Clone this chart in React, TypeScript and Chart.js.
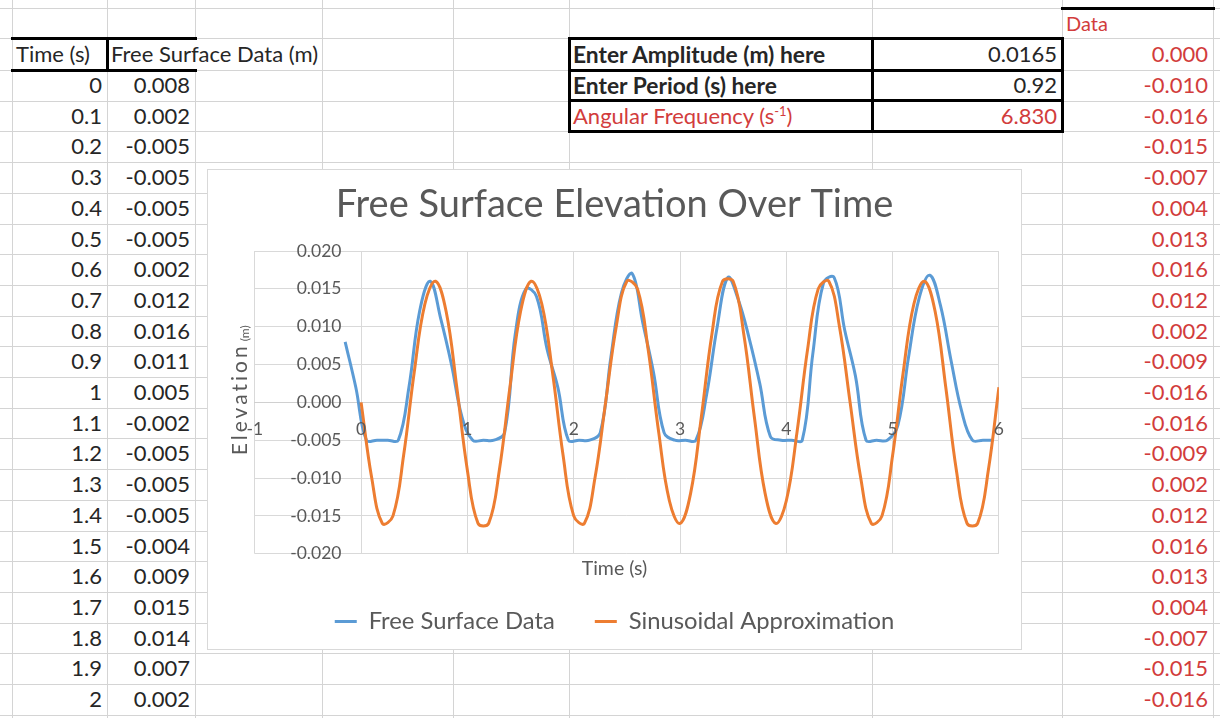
import React, { useEffect, useRef } from "react";
import { Chart, registerables } from "chart.js";

Chart.register(...registerables);

// ---------------- data ----------------
const SAMPLE_TIME = [
  0, 0.1, 0.2, 0.3, 0.4, 0.5, 0.6, 0.7, 0.8, 0.9,
  1, 1.1, 1.2, 1.3, 1.4, 1.5, 1.6, 1.7, 1.8, 1.9,
  2, 2.1, 2.2, 2.3, 2.4, 2.5, 2.6, 2.7, 2.8, 2.9,
  3, 3.1, 3.2, 3.3, 3.4, 3.5, 3.6, 3.7, 3.8, 3.9,
  4, 4.1, 4.2, 4.3, 4.4, 4.5, 4.6, 4.7, 4.8, 4.9,
  5, 5.1, 5.2, 5.3, 5.4, 5.5, 5.6, 5.7, 5.8, 5.9,
  6, 6.1,
];

const FREE_SURFACE = [
  0.008, 0.002, -0.005, -0.005, -0.005, -0.005, 0.002, 0.012, 0.016, 0.011,
  0.005, -0.002, -0.005, -0.005, -0.005, -0.004, 0.009, 0.015, 0.014, 0.007,
  0.002, -0.005, -0.005, -0.005, -0.004, 0.006, 0.0145, 0.017, 0.0105, 0.004,
  -0.004, -0.005, -0.005, -0.005, 0.001, 0.01, 0.0165, 0.0135, 0.0085, 0.0025,
  -0.0045, -0.005, -0.005, -0.005, 0.0065, 0.0158, 0.0165, 0.0095, 0.0035, -0.005,
  -0.005, -0.005, -0.003, 0.006, 0.0138, 0.0168, 0.0128, 0.0055, -0.0012, -0.005,
  -0.005, -0.005,
];

// time offset of the measured series on the chart's x axis (s)
const FREE_SURFACE_TIME_SHIFT = -0.15;

const SINUSOID = [
  0.0, -0.01, -0.016, -0.015, -0.007, 0.004, 0.013, 0.016, 0.012, 0.002,
  -0.009, -0.016, -0.016, -0.009, 0.002, 0.012, 0.016, 0.013, 0.004, -0.007,
  -0.015, -0.016, -0.01, 0.0, 0.01, 0.016, 0.015, 0.007, -0.004, -0.013,
  -0.016, -0.012, -0.002, 0.009, 0.016, 0.016, 0.009, -0.002, -0.012, -0.016,
  -0.013, -0.004, 0.007, 0.015, 0.016, 0.01, 0.0, -0.01, -0.016, -0.015,
  -0.007, 0.004, 0.013, 0.016, 0.012, 0.002, -0.009, -0.016, -0.016, -0.009,
  0.002,
];

const TABLE_ROWS = 21; // rows of the Time / Free Surface table shown
const DATA_ROWS = 22; // rows of the red "Data" column shown

const AMPLITUDE = "0.0165";
const PERIOD = "0.92";
const ANGULAR_FREQUENCY = "6.830";

const SERIES_LABELS = ["Free Surface Data", "Sinusoidal Approximation"];
const CHART_TITLE = "Free Surface Elevation Over Time";
const X_TITLE = "Time (s)";
const Y_TITLE = "Elevation";
const Y_TITLE_UNIT = "(m)";
const X_MIN = -1;
const X_MAX = 6;
const X_STEP = 1;
const Y_MIN = -0.02;
const Y_MAX = 0.02;
const Y_STEP = 0.005;

// ---------------- layout ----------------
const FONT = "Lato";
const GRID = "#d4d4d4";
const TEXT = "#262626";
const RED = "#d23c3c";
const AXIS_TEXT = "#595959";
const COL_X = [12, 107, 195, 322, 453, 569, 872, 1062, 1213];

const rowTop = (r: number) => (r === -1 ? 8 : r === 0 ? 38 : 70 + 30.7 * (r - 1));
const rowH = (r: number) => (r === -1 ? 30 : r === 0 ? 32 : 30.7);

function Cell(props: {
  r: number;
  c0: number;
  c1: number;
  align?: "left" | "right";
  style?: React.CSSProperties;
  children: React.ReactNode;
}) {
  const { r, c0, c1, align = "left", style, children } = props;
  const h = rowH(r);
  const s: React.CSSProperties = {
    position: "absolute",
    top: rowTop(r),
    height: h,
    lineHeight: h + "px",
    whiteSpace: "nowrap",
    fontSize: 22,
    color: TEXT,
  };
  if (align === "right") s.right = 1220 - COL_X[c1] + 5;
  else s.left = COL_X[c0] + 4;
  return <div style={{ ...s, ...style }}>{children}</div>;
}

function Line(props: { x: number; y: number; w: number; h: number; color?: string }) {
  const { x, y, w, h, color = GRID } = props;
  return (
    <div
      style={{
        position: "absolute",
        left: x,
        top: y,
        width: w,
        height: h,
        background: color,
      }}
    />
  );
}

function Sheet() {
  const lines: React.ReactNode[] = [];
  const hy: number[] = [8, 38, 70];
  for (let k = 1; k <= 21; k++) hy.push(Math.round(70 + 30.7 * k));
  hy.forEach((y, i) => lines.push(<Line key={"h" + i} x={0} y={y} w={1220} h={1} />));
  COL_X.forEach((x, i) => {
    if (x === 195) {
      lines.push(<Line key={"v" + i + "a"} x={x} y={0} w={1} h={38} />);
      lines.push(<Line key={"v" + i + "b"} x={x} y={70} w={1} h={648} />);
    } else {
      lines.push(<Line key={"v" + i} x={x} y={0} w={1} h={718} />);
    }
  });

  const thick = (x0: number, y0: number, x1: number, y1: number, key: string) => (
    <Line
      key={key}
      x={Math.min(x0, x1) - 1.5}
      y={Math.min(y0, y1) - 1.5}
      w={Math.abs(x1 - x0) + 3}
      h={Math.abs(y1 - y0) + 3}
      color="#000"
    />
  );
  const b1 = rowTop(2);
  const b2 = rowTop(3);
  const borders = [
    thick(12, 38, 195, 38, "t1"),
    thick(12, 70, 195, 70, "t2"),
    thick(107, 38, 107, 70, "t3"),
    thick(569, 38, 1062, 38, "b1"),
    thick(569, 70, 1062, 70, "b2"),
    thick(569, b1, 1062, b1, "b3"),
    thick(569, b2, 1062, b2, "b4"),
    thick(569, 38, 569, b2, "b5"),
    thick(872, 38, 872, b2, "b6"),
    thick(1062, 38, 1062, b2, "b7"),
    thick(1062, 8, 1213, 8, "d1"),
  ];

  const cells: React.ReactNode[] = [];
  cells.push(
    <Cell key="th1" r={0} c0={0} c1={1}>
      Time (s)
    </Cell>
  );
  cells.push(
    <Cell key="th2" r={0} c0={1} c1={2}>
      Free Surface Data (m)
    </Cell>
  );
  for (let i = 0; i < TABLE_ROWS; i++) {
    cells.push(
      <Cell key={"t" + i} r={i + 1} c0={0} c1={1} align="right">
        {String(SAMPLE_TIME[i])}
      </Cell>
    );
    cells.push(
      <Cell key={"f" + i} r={i + 1} c0={1} c1={2} align="right">
        {FREE_SURFACE[i].toFixed(3)}
      </Cell>
    );
  }
  cells.push(
    <Cell key="dh" r={-1} c0={7} c1={8} style={{ color: RED, fontSize: 20 }}>
      Data
    </Cell>
  );
  for (let j = 0; j < DATA_ROWS; j++) {
    cells.push(
      <Cell key={"d" + j} r={j} c0={7} c1={8} align="right" style={{ color: RED }}>
        {SINUSOID[j].toFixed(3)}
      </Cell>
    );
  }
  cells.push(
    <Cell key="a1" r={0} c0={5} c1={6} style={{ fontWeight: 700, fontSize: 22.8 }}>
      Enter Amplitude (m) here
    </Cell>
  );
  cells.push(
    <Cell key="a2" r={0} c0={6} c1={7} align="right">
      {AMPLITUDE}
    </Cell>
  );
  cells.push(
    <Cell key="p1" r={1} c0={5} c1={6} style={{ fontWeight: 700, fontSize: 22.8 }}>
      Enter Period (s) here
    </Cell>
  );
  cells.push(
    <Cell key="p2" r={1} c0={6} c1={7} align="right">
      {PERIOD}
    </Cell>
  );
  cells.push(
    <Cell key="w1" r={2} c0={5} c1={6} style={{ color: RED }}>
      Angular Frequency (s
      <span style={{ fontSize: 13, position: "relative", top: -8 }}>-1</span>)
    </Cell>
  );
  cells.push(
    <Cell key="w2" r={2} c0={6} c1={7} align="right" style={{ color: RED }}>
      {ANGULAR_FREQUENCY}
    </Cell>
  );

  return (
    <>
      {lines}
      {borders}
      {cells}
    </>
  );
}

function ElevationChart() {
  const canvasRef = useRef<HTMLCanvasElement>(null);

  useEffect(() => {
    const canvas = canvasRef.current;
    if (!canvas) return;

    const yTitlePlugin = {
      id: "yTitleText",
      afterDraw(chart: any) {
        const { ctx, chartArea } = chart;
        ctx.save();
        const cx = 32;
        const cy = (chartArea.top + chartArea.bottom) / 2 - 12;
        ctx.translate(cx, cy);
        ctx.rotate(-Math.PI / 2);
        ctx.fillStyle = AXIS_TEXT;
        ctx.textAlign = "left";
        ctx.textBaseline = "alphabetic";
        ctx.font = `21px ${FONT}`;
        (ctx as any).letterSpacing = "3px";
        const w1 = ctx.measureText(Y_TITLE).width;
        ctx.font = `12px ${FONT}`;
        (ctx as any).letterSpacing = "0px";
        const w2 = ctx.measureText(Y_TITLE_UNIT).width;
        const start = -(w1 + 2 + w2) / 2;
        ctx.font = `21px ${FONT}`;
        (ctx as any).letterSpacing = "3px";
        ctx.fillText(Y_TITLE, start, 7);
        ctx.font = `12px ${FONT}`;
        (ctx as any).letterSpacing = "0px";
        ctx.fillText(Y_TITLE_UNIT, start + w1 + 2, 9);
        ctx.restore();
      },
    };

    const chart = new Chart(canvas, {
      type: "line",
      data: {
        datasets: [
          {
            label: SERIES_LABELS[0],
            data: SAMPLE_TIME.map((t, i) => ({ x: t + FREE_SURFACE_TIME_SHIFT, y: FREE_SURFACE[i] })),
            borderColor: "#5B9BD5",
            backgroundColor: "#5B9BD5",
            borderWidth: 3,
            pointRadius: 0,
            tension: 0.4,
            yAxisID: "y",
            xAxisID: "x",
            order: 1,
          },
          {
            label: SERIES_LABELS[1],
            data: SINUSOID.map((v, i) => ({ x: SAMPLE_TIME[i], y: v })),
            borderColor: "#ED7D31",
            backgroundColor: "#ED7D31",
            borderWidth: 3,
            pointRadius: 0,
            tension: 0.4,
            yAxisID: "y",
            xAxisID: "x",
            order: 0,
          },
        ],
      },
      options: {
        responsive: false,
        animation: false,
        events: [],
        layout: { padding: { left: 18, right: 18, top: 0, bottom: 5.5 } },
        scales: {
          x: {
            type: "linear",
            position: { y: 0 } as any,
            min: X_MIN,
            max: X_MAX,
            grid: { color: "#d9d9d9", drawTicks: false },
            border: { color: "#d0d0d0" },
            ticks: {
              stepSize: X_STEP,
              autoSkip: false,
              maxRotation: 0,
              padding: 17,
              color: AXIS_TEXT,
              font: { family: FONT, size: 17.5 },
              z: 1,
              callback: (v: any) => String(v),
            },
          },
          y: {
            type: "linear",
            // labels sit just left of the x = 0 crossing, as in the spreadsheet chart
            position: { x: -0.185 } as any,
            min: Y_MIN,
            max: Y_MAX,
            grid: { color: "#d9d9d9", drawTicks: false },
            border: { display: false },
            ticks: {
              stepSize: Y_STEP,
              color: AXIS_TEXT,
              font: { family: FONT, size: 17.5 },
              z: 1,
              callback: (v: any) => Number(v).toFixed(3),
            },
          },
          yPad: {
            type: "linear",
            axis: "y",
            position: "left",
            display: true,
            grid: { display: false },
            border: { display: false },
            ticks: { display: false },
            afterFit: (s: any) => {
              s.width = 28.8;
            },
          },
        },
        plugins: {
          title: {
            display: true,
            text: CHART_TITLE,
            color: AXIS_TEXT,
            font: { family: FONT, size: 38, weight: "normal" },
            padding: { top: 12, bottom: 23.4 },
          },
          legend: {
            position: "bottom",
            title: {
              display: true,
              text: X_TITLE,
              color: AXIS_TEXT,
              font: { family: FONT, size: 19.5, lineHeight: 0.5 },
              padding: { top: 5.5, bottom: 0.75 },
            },
            labels: {
              usePointStyle: true,
              pointStyle: "line",
              pointStyleWidth: 22,
              padding: 40,
              color: AXIS_TEXT,
              font: { family: FONT, size: 23.8 },
              sort: (a: any, b: any) => a.datasetIndex - b.datasetIndex,
            },
          },
          tooltip: { enabled: false },
        },
      },
      plugins: [yTitlePlugin],
    } as any);

    return () => chart.destroy();
  }, []);

  return (
    <div
      style={{
        position: "absolute",
        left: 207,
        top: 169,
        width: 815,
        height: 481,
        boxSizing: "border-box",
        border: "1px solid #d9d9d9",
        background: "#fff",
      }}
    >
      <canvas ref={canvasRef} width={813} height={479} style={{ display: "block" }} />
    </div>
  );
}

export default function App() {
  return (
    <div
      style={{
        position: "absolute",
        left: 0,
        top: 0,
        width: 1220,
        height: 718,
        overflow: "hidden",
        background: "#fff",
        fontFamily: FONT,
      }}
    >
      <Sheet />
      <ElevationChart />
    </div>
  );
}
